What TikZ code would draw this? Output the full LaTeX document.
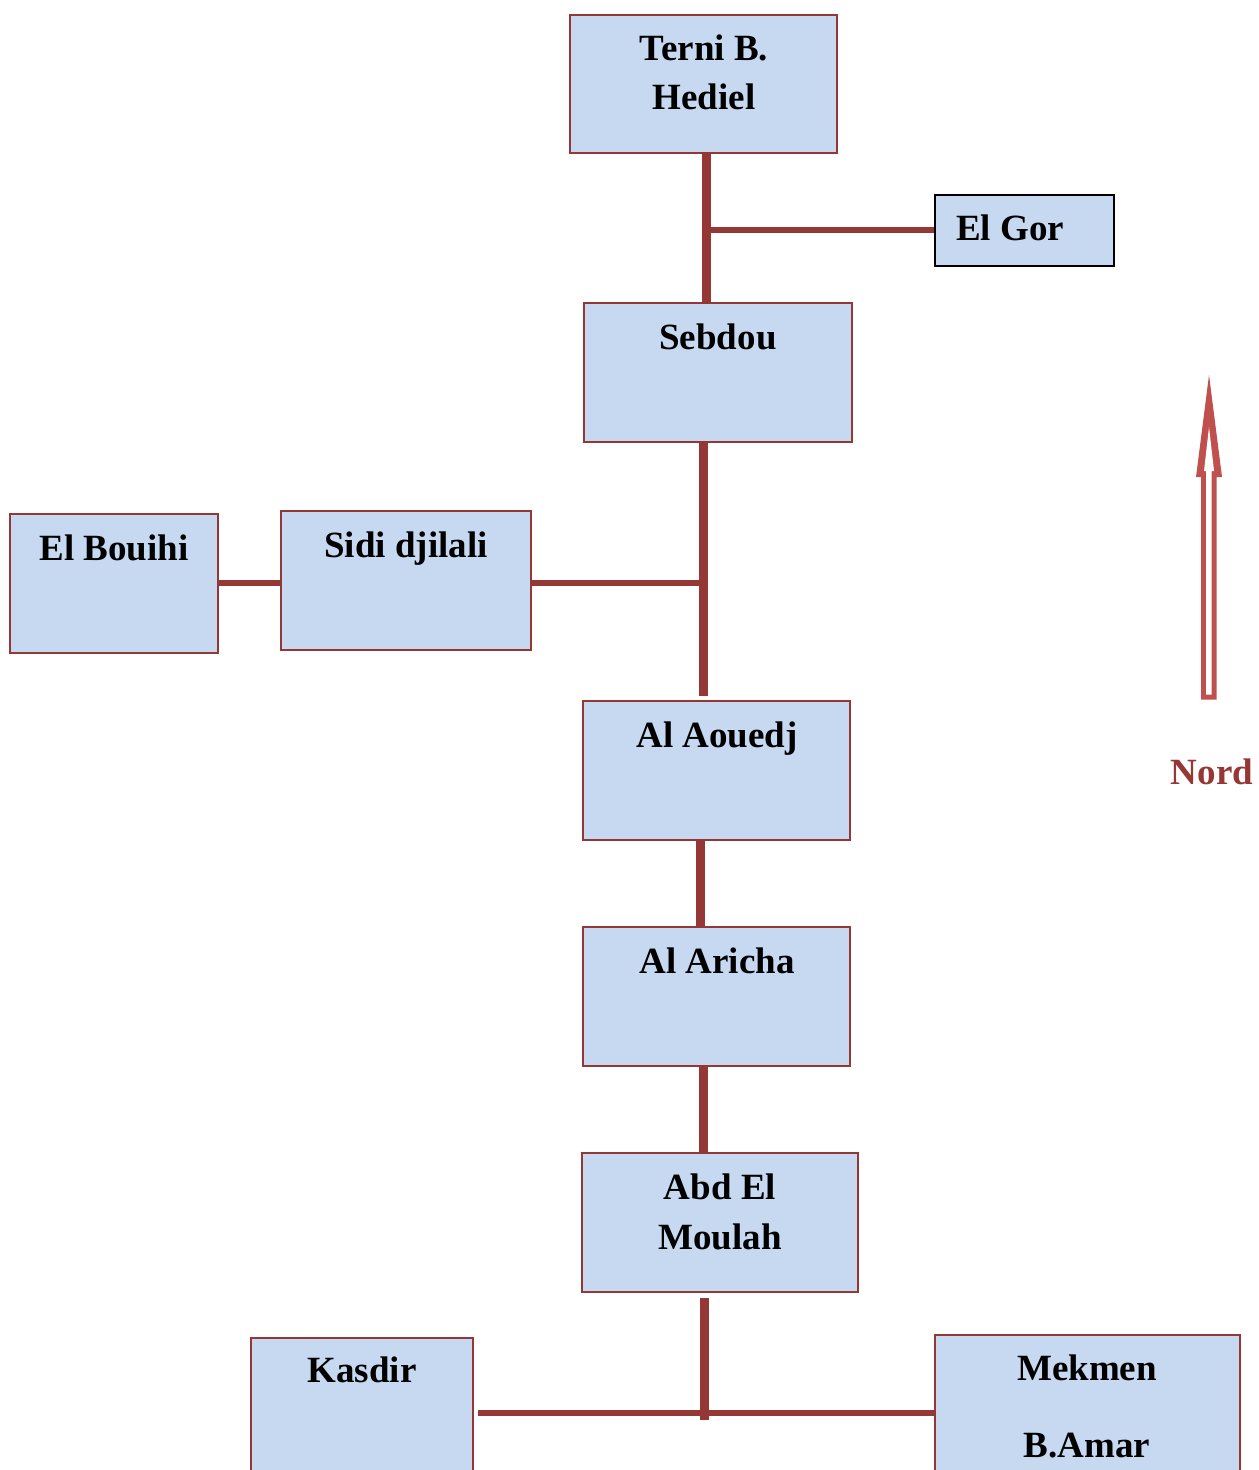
\documentclass[tikz,border=0pt]{standalone}
\usepackage{fontspec}
\setmainfont{Liberation Serif}
\definecolor{boxfill}{HTML}{C6D9F1}
\definecolor{road}{HTML}{953735}
\definecolor{arrowred}{HTML}{C0504D}
\begin{document}
\begin{tikzpicture}[x=0.5pt,y=-0.5pt,
  box/.style={draw=road, fill=boxfill, line width=1pt, inner sep=0pt, rectangle},
  lbl/.style={font=\fontsize{18.5}{22}\selectfont\bfseries, anchor=base, inner sep=0pt},
  trunk/.style={draw=road, line width=4.5pt},
  branch/.style={draw=road, line width=3pt}]
\clip (0,0) rectangle (1258,1470);

% places
\node[box, minimum width=133.5pt, minimum height=69pt]   (terni)    at (703.5,84)   {};
\node[box, draw=black, minimum width=89.5pt, minimum height=35.5pt] (elgor) at (1024.5,230.5) {};
\node[box, minimum width=134pt, minimum height=69.5pt]   (sebdou)   at (718,372.5)  {};
\node[box, minimum width=104pt, minimum height=69.5pt]   (elbouihi) at (114,583.5)  {};
\node[box, minimum width=125pt, minimum height=69.5pt]   (sidi)     at (406,580.5)  {};
\node[box, minimum width=133.5pt, minimum height=69.5pt] (aouedj)   at (716.5,770.5) {};
\node[box, minimum width=133.5pt, minimum height=69.5pt] (aricha)   at (716.5,996.5) {};
\node[box, minimum width=138pt, minimum height=69.5pt]   (abd)      at (720,1222.5) {};
\node[box, minimum width=111pt, minimum height=71pt]     (kasdir)   at (362,1409)   {};
\node[box, minimum width=152.5pt, minimum height=72.5pt] (mekmen)   at (1087.5,1407.5) {};

% place names
\node[lbl] (t-terni1) at (704,61)   {Terni B.};
\node[lbl] (t-terni2) at (704,110)  {Hediel};
\node[lbl] (t-elgor)  at (1010,241) {El Gor};
\node[lbl] (t-sebdou) at (718,350)  {Sebdou};
\node[lbl] (t-bouihi) at (114,560)  {El Bouihi};
\node[lbl] (t-sidi)   at (406,557)  {Sidi djilali};
\node[lbl] (t-aouedj) at (717,747)  {Al Aouedj};
\node[lbl] (t-aricha) at (717,973)  {Al Aricha};
\node[lbl] (t-abd1)   at (720,1199) {Abd El};
\node[lbl] (t-abd2)   at (720,1249) {Moulah};
\node[lbl] (t-kasdir) at (362,1382) {Kasdir};
\node[lbl] (t-mek1)   at (1087,1380) {Mekmen};
\node[lbl] (t-mek2)   at (1087,1457) {B.Amar};

% road junctions
\coordinate (j1) at (706,230);
\coordinate (j2) at (703,583);
\coordinate (j3) at (700,880);
\coordinate (j4) at (703,1110);
\coordinate (j5) at (704,1413);

% roads
\draw[trunk] (terni.south -| j1) -- (sebdou.north -| j1);
\draw[branch] (j1) -- (elgor.west |- j1);
\draw[trunk, shorten >=2pt] (sebdou.south -| j2) -- (aouedj.north -| j2);
\draw[branch] (sidi.east |- j2) -- ([xshift=-1pt]j2);
\draw[branch] (elbouihi.east |- j2) -- (sidi.west |- j2);
\draw[trunk] (aouedj.south -| j3) -- (aricha.north -| j3);
\draw[trunk] (aricha.south -| j4) -- (abd.north -| j4);
\draw[trunk, shorten <=2.5pt] (abd.south -| j5) -- ([yshift=-3.5pt]j5);
\draw[branch] ([xshift=2pt]kasdir.east |- j5) -- (mekmen.west |- j5);

% north arrow: red outline shape with a white hollow inside
\fill[arrowred]
  (1201,699.5) -- (1201,477) -- (1196,477) -- (1209,375)
  -- (1222,477) -- (1216.5,477) -- (1216.5,699.5) -- cycle;
\fill[white]
  (1206,694.5) -- (1206,471) -- (1204,471) -- (1209,427)
  -- (1214,471) -- (1211.5,471) -- (1211.5,694.5) -- cycle;
\node[lbl, text=road] (nord) at (1212,784) {Nord};
\end{tikzpicture}
\end{document}
